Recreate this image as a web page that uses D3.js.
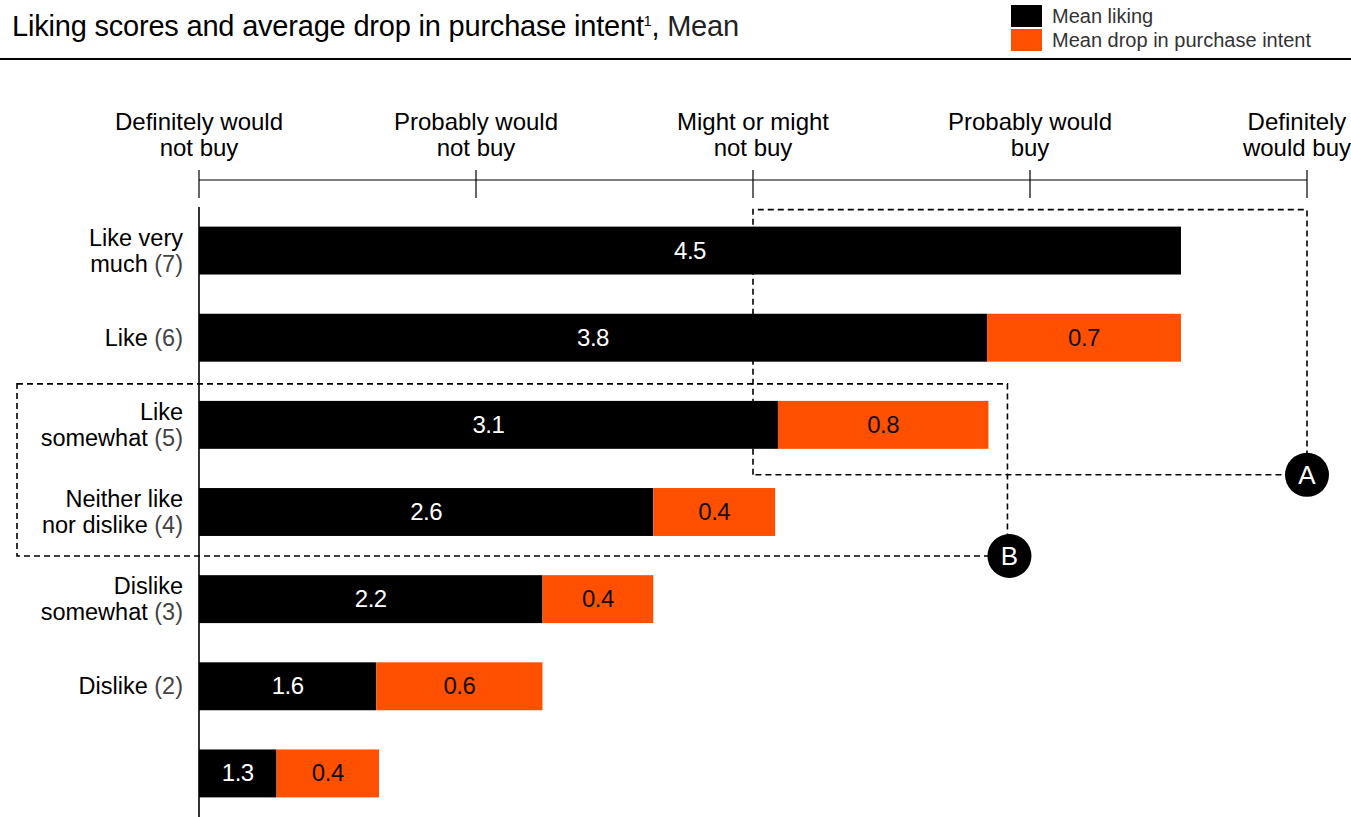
<!DOCTYPE html>
<html>
<head>
<meta charset="utf-8">
<script src="https://cdn.jsdelivr.net/npm/d3@7"></script>
<style>
  body { margin: 0; background: #fff; }
  text { font-family: "Liberation Sans", Arial, sans-serif; }
</style>
</head>
<body>
<script>
// data
var catNames = [["Like very", "much"], ["Like"], ["Like", "somewhat"], ["Neither like", "nor dislike"], ["Dislike", "somewhat"], ["Dislike"], [""]];
var catCodes = ["(7)", "(6)", "(5)", "(4)", "(3)", "(2)", ""];
var liking = [4.545, 3.845, 3.09, 2.64, 2.24, 1.64, 1.28];
var drop = [0, 0.7, 0.76, 0.44, 0.40, 0.6, 0.37];
var tickValues = [1, 2, 3, 4, 5];
var tickLabels = [["Definitely would", "not buy"], ["Probably would", "not buy"], ["Might or might", "not buy"], ["Probably would", "buy"], ["Definitely", "would buy"]];
var legendLabels = ["Mean liking", "Mean drop in purchase intent"];
var colors = ["#000000", "#FF4F00"];

var width = 1351, height = 817;

var svg = d3.select("body").append("svg")
    .attr("width", width)
    .attr("height", height);

var x = d3.scaleLinear().domain([1, 5]).range([199, 1307]);
var y = d3.scaleBand().domain(d3.range(liking.length)).range([207, 817])
    .paddingInner(0.45).paddingOuter(0.225);
var bw = y.bandwidth();
var fmt = d3.format(".1f");

var rowsData = liking.map(function(v, i) { return {i: i, like: v, drop: drop[i]}; });

// title + rule
var title = svg.append("text").attr("x", 12).attr("y", 36)
    .style("font-size", "29px").style("letter-spacing", "-0.2px").attr("fill", "#000");
title.append("tspan").text("Liking scores and average drop in purchase intent");
title.append("tspan").text("1").attr("dy", -10).style("font-size", "14px");
title.append("tspan").text(",").attr("dy", 10);
title.append("tspan").text(" Mean").attr("fill", "#222").style("font-weight", "300");

svg.append("line").attr("x1", 0).attr("x2", width).attr("y1", 59).attr("y2", 59)
    .attr("stroke", "#000").attr("stroke-width", 2);

// legend
legendLabels.forEach(function(l, i) {
  svg.append("rect").attr("x", 1011).attr("y", 5 + i * 24).attr("width", 31).attr("height", 22)
      .attr("fill", colors[i]);
  svg.append("text").attr("x", 1052).attr("y", 23 + i * 24).text(l)
      .style("font-size", "20px").attr("fill", "#333");
});

// top axis
var axisY = 180;
svg.append("line").attr("x1", x(1)).attr("x2", x(5)).attr("y1", axisY).attr("y2", axisY)
    .attr("stroke", "#000").attr("stroke-width", 1.2);
tickValues.forEach(function(v, i) {
  svg.append("line").attr("x1", x(v)).attr("x2", x(v)).attr("y1", 170).attr("y2", 198)
      .attr("stroke", "#000").attr("stroke-width", 1.2);
  var t = svg.append("text").attr("text-anchor", "middle")
      .style("font-size", "24px").attr("fill", "#000");
  tickLabels[i].forEach(function(s, j) {
    t.append("tspan").attr("x", x(v)).attr("y", 130 + j * 26).text(s);
  });
  // keep the last label inside the page
  var bb = t.node().getBBox();
  if (bb.x + bb.width > width) t.attr("transform", "translate(" + (width - (bb.x + bb.width)) + ",0)");
});

// dashed annotation boxes
var dash = "6,4";
var aRight = x(5), aLeft = x(3), aTop = y(0) - 17, aBottom = y(2) + bw + 26;
var bLeft = 17, bRight = x(liking[2] + drop[2]) + 19, bTop = y(2) - 17, bBottom = y(3) + bw + 20;

svg.append("path")
    .attr("d", "M" + aLeft + "," + aBottom + "V" + aTop + "H" + aRight + "V" + aBottom + "H" + aLeft)
    .attr("fill", "none").attr("stroke", "#000").attr("stroke-width", 1.6).attr("stroke-dasharray", dash);
svg.append("path")
    .attr("d", "M" + bLeft + "," + bTop + "H" + bRight + "V" + bBottom + "H" + bLeft + "Z")
    .attr("fill", "none").attr("stroke", "#000").attr("stroke-width", 1.6).attr("stroke-dasharray", dash);

// bars
var rows = svg.selectAll(".row").data(rowsData).enter().append("g").attr("class", "row");
rows.append("rect")
    .attr("x", x(1)).attr("y", function(d) { return y(d.i); })
    .attr("width", function(d) { return x(d.like) - x(1); }).attr("height", bw)
    .attr("fill", colors[0]);
rows.append("text")
    .attr("x", function(d) { return (x(1) + x(d.like)) / 2; })
    .attr("y", function(d) { return y(d.i) + bw / 2 + 8; })
    .attr("text-anchor", "middle").attr("fill", "#fff")
    .style("font-size", "24px").style("letter-spacing", "-0.5px").style("font-weight", "300")
    .text(function(d) { return fmt(d.like); });

var dropRows = rows.filter(function(d) { return d.drop > 0; });
dropRows.append("rect")
    .attr("x", function(d) { return x(d.like); }).attr("y", function(d) { return y(d.i); })
    .attr("width", function(d) { return x(d.like + d.drop) - x(d.like); }).attr("height", bw)
    .attr("fill", colors[1]);
dropRows.append("text")
    .attr("x", function(d) { return (x(d.like) + x(d.like + d.drop)) / 2; })
    .attr("y", function(d) { return y(d.i) + bw / 2 + 8; })
    .attr("text-anchor", "middle").attr("fill", "#111")
    .style("font-size", "24px").style("letter-spacing", "-0.5px").style("font-weight", "300")
    .text(function(d) { return fmt(d.drop); });

// category labels
catNames.forEach(function(lines, i) {
  var t = svg.append("text").attr("text-anchor", "end")
      .style("font-size", "23.5px").attr("fill", "#000");
  var cy = y(i) + bw / 2 + 8 - (lines.length - 1) * 13;
  lines.forEach(function(s, j) {
    t.append("tspan").attr("x", 183).attr("y", cy + j * 26).text(s);
    if (j === lines.length - 1 && catCodes[i]) {
      t.append("tspan").text(" " + catCodes[i]).attr("fill", "#444").style("font-weight", "300");
    }
  });
});

// vertical axis
svg.append("line").attr("x1", x(1)).attr("x2", x(1)).attr("y1", 207).attr("y2", height)
    .attr("stroke", "#000").attr("stroke-width", 1.6);

// markers A and B
[["A", aRight, aBottom], ["B", bRight + 2, bBottom]].forEach(function(m) {
  svg.append("circle").attr("cx", m[1]).attr("cy", m[2]).attr("r", 22).attr("fill", "#000");
  svg.append("text").attr("x", m[1]).attr("y", m[2] + 9).attr("text-anchor", "middle")
      .attr("fill", "#fff").style("font-size", "26px").text(m[0]);
});
</script>
</body>
</html>
